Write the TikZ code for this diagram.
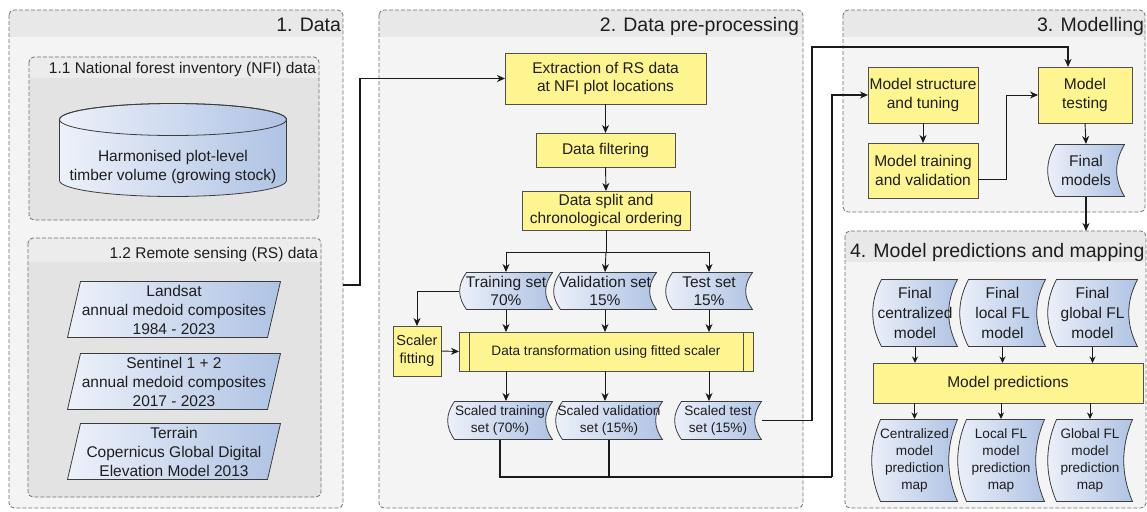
\documentclass[tikz,border=0pt]{standalone}
\usepackage{fontspec}
\setmainfont{Liberation Sans}
\usetikzlibrary{arrows.meta,calc}
\definecolor{panelfill}{HTML}{F4F4F4}
\definecolor{bandfill}{HTML}{E8E8E8}
\definecolor{subfill}{HTML}{E3E3E3}
\definecolor{subband}{HTML}{ECECEC}
\definecolor{edgecol}{HTML}{707070}
\definecolor{yfill}{HTML}{FFF590}
\definecolor{ydraw}{HTML}{505050}
\definecolor{blueL}{HTML}{EDF1FA}
\definecolor{blueR}{HTML}{AFC3E4}
\definecolor{bdraw}{HTML}{3C3C3C}
\definecolor{txt}{HTML}{1E1E1E}
\definecolor{conn}{HTML}{1A1A1A}

\newcommand\myfontbody{\fontsize{15.5}{18.5}\selectfont}
\newcommand\myfontsmall{\fontsize{13.6}{17}\selectfont}
\newcommand\myfonttitle{\fontsize{19.5}{23}\selectfont}

\newcommand\drawtapeshape[1]{%
 \path[draw=bdraw,line width=0.8pt,left color=blueL,right color=blueR]
  let \p1=([shift={(0.5pt,0.5pt)}]path picture bounding box.south west),
      \p2=([shift={(-0.5pt,-0.5pt)}]path picture bounding box.north east),
      \n1={\y2-\y1}, \n2={#1}
  in (\x1+\n2,\y2) -- (\x2,\y2)
   .. controls (\x2-1.3*\n2,\y2-0.33*\n1) and (\x2-1.3*\n2,\y1+0.33*\n1) .. (\x2,\y1)
   -- (\x1+\n2,\y1)
   .. controls (\x1-0.3*\n2,\y1+0.33*\n1) and (\x1-0.3*\n2,\y2-0.33*\n1) .. (\x1+\n2,\y2) -- cycle;}

\newcommand\drawslantshape[1]{%
 \path[draw=bdraw,line width=0.8pt,left color=blueL,right color=blueR]
  let \p1=([shift={(0.5pt,0.5pt)}]path picture bounding box.south west),
      \p2=([shift={(-0.5pt,-0.5pt)}]path picture bounding box.north east),
      \n2={#1}
  in (\x1+\n2,\y2) -- (\x2,\y2) -- (\x2-\n2,\y1) -- (\x1,\y1) -- cycle;}

\newcommand\drawcylshape[1]{%
 \path[draw=bdraw,line width=0.8pt,left color=blueL,right color=blueR]
  let \p1=([shift={(0.5pt,0.5pt)}]path picture bounding box.south west),
      \p2=([shift={(-0.5pt,-0.5pt)}]path picture bounding box.north east),
      \n1={(\x2-\x1)/2}, \n2={#1}
  in (\x1,\y2-\n2) -- (\x1,\y1+\n2)
     arc[start angle=180,end angle=360,x radius={\n1*1pt},y radius={\n2*1pt}]
     -- (\x2,\y2-\n2)
     arc[start angle=0,end angle=180,x radius={\n1*1pt},y radius={\n2*1pt}] -- cycle;
 \path[draw=bdraw,line width=0.8pt]
  let \p1=([shift={(0.5pt,0.5pt)}]path picture bounding box.south west),
      \p2=([shift={(-0.5pt,-0.5pt)}]path picture bounding box.north east),
      \n1={(\x2-\x1)/2}, \n2={#1}
  in ({(\x1+\x2)/2},\y2-\n2) ellipse[x radius={\n1*1pt},y radius={\n2*1pt}];}

\newcommand\drawsubproclines[1]{%
 \draw[ydraw,line width=0.8pt]
  ([xshift=#1]path picture bounding box.north west) -- ([xshift=#1]path picture bounding box.south west)
  ([xshift=-#1]path picture bounding box.north east) -- ([xshift=-#1]path picture bounding box.south east);}

\newcommand\mypanel[7]{%
  \fill[#6,rounded corners=5pt] (#1,#2) rectangle (#3,#4);
  \begin{scope}
    \clip[rounded corners=5pt] (#1,#2) rectangle (#3,#4);
    \fill[#7] (#1,#2) rectangle (#3,#5);
  \end{scope}
  \draw[paneledge,rounded corners=5pt] (#1,#2) rectangle (#3,#4);}

\begin{document}
\begin{tikzpicture}[x=1pt,y=-1pt,
  every node/.style={font=\myfontbody, align=center, inner sep=0pt, outer sep=0pt, text=txt},
  ybox/.style={draw=ydraw, fill=yfill, line width=0.8pt},
  datatape/.style={path picture={\drawtapeshape{#1}}},
  datatape/.default=8pt,
  slantbox/.style={path picture={\drawslantshape{13pt}}, font=\fontsize{15.5}{19}\selectfont},
  cylbox/.style={path picture={\drawcylshape{16pt}}},
  subproc/.style={ybox, path picture={\drawsubproclines{10pt}}},
  thinconn/.style={draw=conn, line width=0.9pt},
  thickconn/.style={draw=conn, line width=1.8pt},
  arrowtip/.style={-{Stealth[length=8pt,width=7pt,inset=2.5pt]}},
  smalltip/.style={-{Stealth[length=6.5pt,width=6pt,inset=2pt]}},
  paneledge/.style={draw=edgecol, line width=0.8pt, dash pattern=on 4pt off 2pt},
  paneltitle/.style={font=\myfonttitle},
  subtitle/.style={font=\myfontbody}]

\useasboundingbox (0,0) rectangle (1147,511);
\fill[white] (0,0) rectangle (1147,511);

% panels
\mypanel{9}{10}{343}{508}{37}{panelfill}{bandfill}
\mypanel{29}{57}{319}{220}{78}{subfill}{subband}
\mypanel{28}{238}{321}{497}{262}{subfill}{subband}
\mypanel{379}{10}{803}{508}{37}{panelfill}{bandfill}
\mypanel{843}{10}{1145}{212}{37}{panelfill}{bandfill}
\mypanel{845}{231}{1146}{508}{262}{panelfill}{bandfill}

% titles
\node[paneltitle,anchor=base east] (t1) at (341,32) {1. Data};
\node[paneltitle,anchor=base east] (t2) at (799,32) {2. Data pre-processing};
\node[paneltitle,anchor=base east] (t3) at (1144,32) {3. Modelling};
\node[paneltitle,anchor=base west] (t4) at (850,257) {4. Model predictions and mapping};
\node[subtitle,anchor=base east] (t11) at (316,74) {1.1 National forest inventory (NFI) data};
\node[subtitle,anchor=base east] (t12) at (318,258) {1.2 Remote sensing (RS) data};

% panel 1
\node[cylbox,minimum width=228,minimum height=94] (nfi) at (173,150)
  {\rule{0pt}{45pt}Harmonised plot-level\\timber volume (growing stock)};
\node[slantbox,minimum width=214,minimum height=57] (landsat) at (174,309.5)
  {Landsat\\annual medoid composites\\1984 - 2023};
\node[slantbox,minimum width=214,minimum height=57] (sentinel) at (174,381.5)
  {Sentinel 1 + 2\\annual medoid composites\\2017 - 2023};
\node[slantbox,minimum width=214,minimum height=57] (terrain) at (174,451.5)
  {Terrain\\Copernicus Global Digital\\Elevation Model 2013};

% panel 2
\node[ybox,minimum width=201,minimum height=51] (extract) at (605.5,78.5) {Extraction of RS data\\at NFI plot locations};
\node[ybox,minimum width=139,minimum height=34] (filter) at (605.5,150) {Data filtering};
\node[ybox,minimum width=168,minimum height=39] (split) at (606,210.5) {Data split and\\chronological ordering};
\node[datatape=7pt,minimum width=94,minimum height=38] (train) at (506,291) {Training set\\70\%};
\node[datatape=7pt,minimum width=104,minimum height=38] (val) at (605,291) {Validation set\\15\%};
\node[datatape=7pt,minimum width=88,minimum height=38] (test) at (709,291) {Test set\\15\%};
\node[ybox,minimum width=48,minimum height=50,font=\fontsize{14.5}{18}\selectfont] (scaler) at (417,351) {Scaler\\fitting};
\node[subproc,minimum width=294,minimum height=39,font=\myfontsmall] (transform) at (606,351.5) {Data transformation using fitted scaler};
\node[datatape=7pt,minimum width=106,minimum height=39,font=\myfontsmall] (strain) at (500,420.5) {Scaled training\\set (70\%)};
\node[datatape=7pt,minimum width=108,minimum height=39,font=\myfontsmall] (sval) at (609,420.5) {Scaled validation\\set (15\%)};
\node[datatape=7pt,minimum width=88,minimum height=39,font=\myfontsmall] (stest) at (718,420.5) {Scaled test\\set (15\%)};

% panel 3
\node[ybox,minimum width=110,minimum height=56] (mstruct) at (923,95) {Model structure\\and tuning};
\node[ybox,minimum width=110,minimum height=55] (mtrain) at (923,170.5) {Model training\\and validation};
\node[ybox,minimum width=94,minimum height=56] (mtest) at (1085,95) {Model\\testing};
\node[datatape=8pt,minimum width=78,minimum height=53] (fmodels) at (1086,170.5) {Final\\models};

% panel 4
\node[datatape=9pt,minimum width=86,minimum height=68,font=\fontsize{15.5}{20}\selectfont] (fcent) at (915,313) {Final\\centralized\\model};
\node[datatape=9pt,minimum width=87,minimum height=68,font=\fontsize{15.5}{20}\selectfont] (flocal) at (1002.5,313) {Final\\local FL\\model};
\node[datatape=9pt,minimum width=91,minimum height=68,font=\fontsize{15.5}{20}\selectfont] (fglobal) at (1092.5,313) {Final\\global FL\\model};
\node[ybox,minimum width=270,minimum height=40] (mpred) at (1008,383) {Model predictions};
\node[datatape=9pt,minimum width=87,minimum height=83,font=\myfontsmall] (cmap) at (914.5,460.5) {Centralized\\model\\prediction\\map};
\node[datatape=9pt,minimum width=88,minimum height=83,font=\myfontsmall] (lmap) at (1001,460.5) {Local FL\\model\\prediction\\map};
\node[datatape=9pt,minimum width=86,minimum height=83,font=\myfontsmall] (gmap) at (1090,460.5) {Global FL\\model\\prediction\\map};

% connectors panel 1 -> 2
\coordinate (p1out) at (343,285);
\draw[thickconn,arrowtip] (p1out) -- ++(17,0) |- (extract.west);

% panel 2 internal
\draw[thinconn,arrowtip] (extract.south) -- (filter.north);
\draw[thinconn,arrowtip] (filter.south) -- (split.north);
\coordinate (br) at (606,252);
\draw[thinconn] (split.south) -- (br);
\draw[thinconn,arrowtip] (br) -| (train.north);
\draw[thinconn,arrowtip] (br) -- (val.north);
\draw[thinconn,arrowtip] (br) -| (test.north);
\draw[thinconn,arrowtip] (train.west) -| (scaler.north);
\draw[thinconn,arrowtip] (scaler.east) -- (transform.west);
\draw[thinconn,arrowtip] (train.south) -- (train.south |- transform.north);
\draw[thinconn,arrowtip] (val.south) -- (val.south |- transform.north);
\draw[thinconn,arrowtip] (test.south) -- (test.south |- transform.north);
\draw[thinconn,arrowtip] (train.south |- transform.south) -- (train.south |- strain.north);
\draw[thinconn,arrowtip] (val.south |- transform.south) -- (val.south |- sval.north);
\draw[thinconn,arrowtip] (test.south |- transform.south) -- (test.south |- stest.north);

% panel 2 -> 3
\coordinate (bus) at (832,477);
\draw[thickconn] (strain.south) |- (bus);
\draw[thickconn] (sval.south) -- (sval.south |- bus);
\draw[thickconn,arrowtip] (bus) |- (mstruct.west);
\coordinate (tbus) at (812,47);
\coordinate (mtin) at ([xshift=-17pt]mtest.north);
\draw[thickconn,arrowtip] (stest.east) -| (tbus) -| (mtin);

% panel 3 internal
\draw[thinconn,arrowtip] (mstruct.south) -- (mtrain.north);
\draw[thinconn,arrowtip] ([yshift=-8.5pt]mtrain.east) -- ++(28,0) |- (mtest.west);
\draw[thinconn,arrowtip] (mtest.south) -- (fmodels.north);
\coordinate (p4in) at (1086,231);
\draw[thickconn,arrowtip] (fmodels.south) -- (p4in);

% panel 4 internal
\draw[thinconn,smalltip] (fcent.south) -- (fcent.south |- mpred.north);
\draw[thinconn,smalltip] (flocal.south) -- (flocal.south |- mpred.north);
\draw[thinconn,smalltip] (fglobal.south) -- (fglobal.south |- mpred.north);
\draw[thinconn,smalltip] (cmap.north |- mpred.south) -- (cmap.north);
\draw[thinconn,smalltip] (lmap.north |- mpred.south) -- (lmap.north);
\draw[thinconn,smalltip] (gmap.north |- mpred.south) -- (gmap.north);
\end{tikzpicture}
\end{document}
